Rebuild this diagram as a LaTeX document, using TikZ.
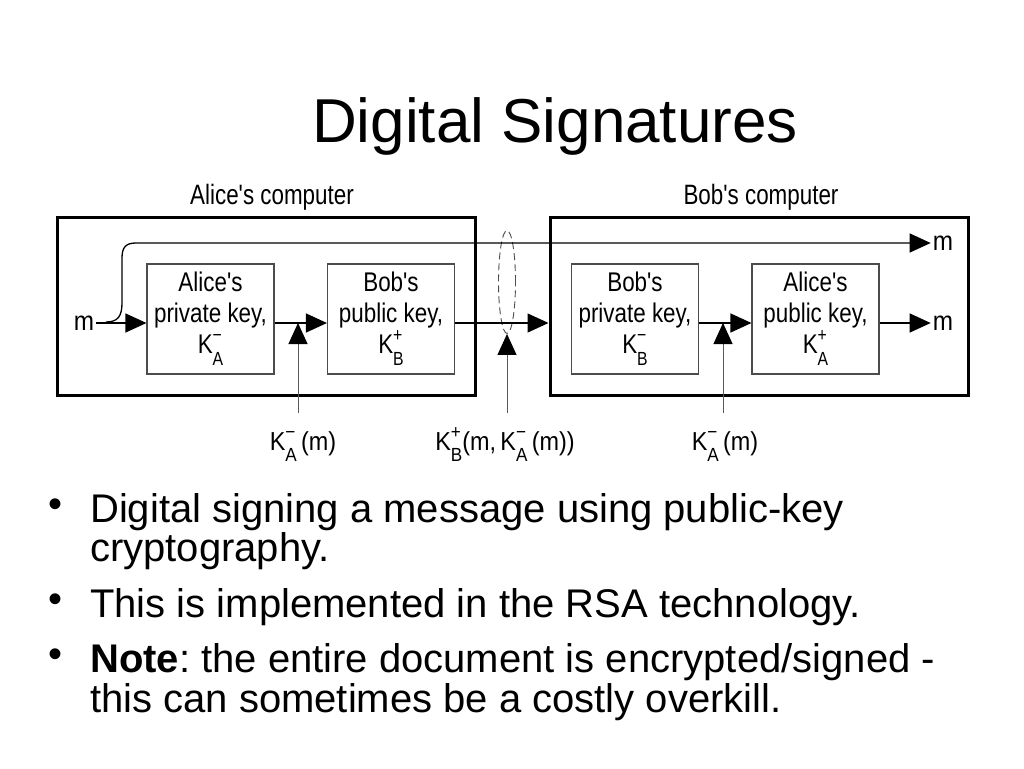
\documentclass[tikz,border=0pt]{standalone}
\usepackage{fontspec}
\setmainfont{Liberation Sans}
\newfontfamily\dfont[FakeStretch=0.9]{Liberation Sans}
\newfontfamily\kfont[FakeStretch=0.83]{Liberation Sans}
\newfontfamily\cfont[FakeStretch=0.8]{Liberation Sans}
\usetikzlibrary{arrows.meta,shapes.geometric}
\frenchspacing
\newcommand{\kk}[2]{K\rlap{\raisebox{0.45em}{\fontsize{19}{19}\selectfont #1}}\raisebox{-0.45em}{\fontsize{19}{19}\selectfont #2}}
\begin{document}
\begin{tikzpicture}[x=1pt,y=-1pt,
  outer/.style={draw=black,line width=3pt,minimum width=418pt,minimum height=178pt,inner sep=0pt},
  keybox/.style={draw=black!70,line width=1.1pt,minimum width=127pt,minimum height=110pt,inner sep=0pt,align=center,font=\kfont\fontsize{27}{31}\selectfont},
  flow/.style={line width=1.3pt,-{Triangle[length=21pt,width=19pt]}},
  feed/.style={draw=black!65,line width=1pt,-{Triangle[length=21pt,width=19pt,color=black]}},
  lab/.style={font=\dfont\fontsize{26}{26}\selectfont,inner sep=0pt,anchor=base},
  mlab/.style={font=\dfont\fontsize{27}{27}\selectfont,inner sep=2pt},
  pclab/.style={font=\cfont\fontsize{28}{28}\selectfont,inner sep=0pt,anchor=base},
  btxt/.style={font=\fontsize{40}{40}\selectfont,inner sep=0pt,anchor=base west},
  bul/.style={font=\fontsize{40}{40}\selectfont,inner sep=0pt}]
\useasboundingbox (0,0) rectangle (1024,768);
\fill[white] (0,0) rectangle (1024,768);

\node[font=\fontsize{62}{62}\selectfont,inner sep=0pt,anchor=base] (title) at (555,142) {Digital Signatures};

\node[pclab] (alab) at (272,204) {Alice's computer};
\node[pclab] (blab) at (761,204) {Bob's computer};

\node[outer] (alicepc) at (266,306) {};
\node[outer] (bobpc) at (759,306) {};

\node[keybox] (b1) at (210.5,319) {Alice's\\private key,\\\kk{−}{A}};
\node[keybox] (b2) at (391,319) {Bob's\\public key,\\\kk{+}{B}};
\node[keybox] (b3) at (635,319) {Bob's\\private key,\\\kk{−}{B}};
\node[keybox] (b4) at (815.5,319) {Alice's\\public key,\\\kk{+}{A}};

\coordinate (ml) at (0,323);
\node[mlab] (min) at (84,323) {m};
\node[mlab] (mout) at (943,323) {m};
\node[mlab] (mtop) at (943,243) {m};

\node[draw=black!70,dashed,dash pattern=on 7pt off 4pt,line width=0.9pt,ellipse,minimum width=17pt,minimum height=103pt,inner sep=0pt] (env) at (507,282) {};

\draw[flow] (min.east) -- (min.east -| b1.west);
\draw[flow] (b1.east |- ml) -- (b2.west |- ml);
\draw[flow] (b2.east |- ml) -- (bobpc.west |- ml);
\draw[flow] (b3.east |- ml) -- (b4.west |- ml);
\draw[flow] (b4.east |- ml) -- (mout.west);

\coordinate (cs) at (106,322);
\draw[flow] (cs) .. controls (118,322) and (122,316) .. (122,303) -- (122,258)
  .. controls (122,247) and (126,243) .. (136,243) -- (mtop.west);

\coordinate (s1) at (298,413);
\coordinate (s2) at (507,413);
\coordinate (s3) at (723,413);
\draw[feed] (s1) -- (s1 |- ml);
\draw[feed] (s2) -- (env.south);
\draw[feed] (s3) -- (s3 |- ml);

\node[lab] (l1) at (303,450) {\kk{−}{A}\,(m)};
\node[lab] (l2) at (505,450) {\kk{+}{B}(m,\,\kk{−}{A}\,(m))};
\node[lab] (l3) at (725,450) {\kk{−}{A}\,(m)};

\node[bul] (d1) at (56,508) {•};
\node[bul] (d2) at (56,603) {•};
\node[bul] (d3) at (56,658) {•};
\node[btxt] (t1) at (90,522) {Digital signing a message using public-key};
\node[btxt] (t2) at (90,561) {cryptography.};
\node[btxt] (t3) at (90,617) {This is implemented in the RSA technology.};
\node[btxt] (t4) at (90,672) {\textbf{Note}: the entire document is encrypted/signed -};
\node[btxt] (t5) at (90,712) {this can sometimes be a costly overkill.};
\end{tikzpicture}
\end{document}
